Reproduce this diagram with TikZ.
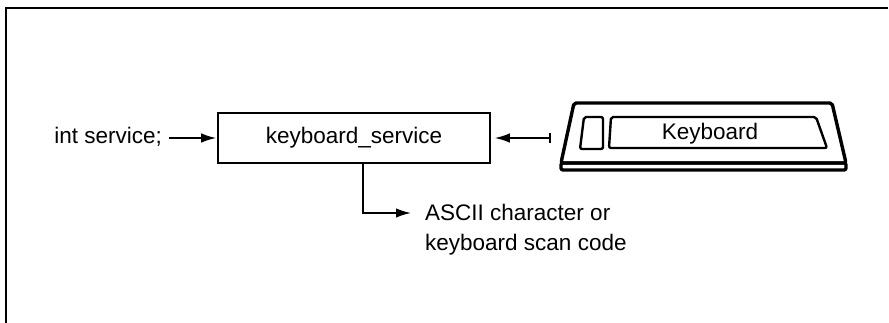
\documentclass[tikz,border=0pt]{standalone}
\usepackage{fontspec}
\setmainfont{Liberation Sans}
\usetikzlibrary{arrows.meta,positioning}

\begin{document}
\begin{tikzpicture}[x=1pt,y=-1pt,>={Latex[length=15pt,width=9.5pt]},shorten >=1pt,node distance=55pt,
	every node/.style={font=\fontsize{22.5}{30}\selectfont,inner sep=0pt},
	lbl/.style={text height=15.5pt,text depth=4.5pt},
	svcbox/.style={draw,lbl,line width=1.6pt,minimum width=272pt,minimum height=50pt},
	kbdline/.style={line width=3.4pt,line join=round,rounded corners=2pt},
	keyline/.style={line width=2.4pt,line join=round,rounded corners=2pt}]

\useasboundingbox (0,0) rectangle (889,323);
% frame, top and left edge
\draw[line width=2pt] (6,323) -- (6,8) -- (889,8);

\node[svcbox]   (svc) at (354,138)   {keyboard\_service};
\node[lbl]   (src)[left=of svc]   {int service;};
\node[anchor=north west,align=left]   (out) at (425,204)   {ASCII character or\\keyboard scan code};

% keyboard
\draw[kbdline] (574,103) -- (832,103) -- (846,163) -- (561,163) -- cycle;
\draw[kbdline] (561,163) rectangle (846,170);
\draw[keyline] (584,117) -- (603,117) -- (603,149) -- (580,149) -- cycle;
\draw[keyline] (611,117) -- (816,117) -- (827,148) -- (609,148) -- cycle;
\node[lbl]   (kbd) at (710,134)   {Keyboard};

\coordinate (kbdtail) at (551,138);
\coordinate (tip) at (411,213);

	\path[->,line width=1.6pt] (src.east)  edge[shorten <=7pt]	(svc.west)
							(kbdtail)  edge[{Bar[width=10pt]}->,shorten >=4pt]	(svc.east);
	\draw[->,line width=1.6pt,shorten >=0pt] ([xshift=9pt]svc.south) |- (tip);
\end{tikzpicture}
\end{document}
